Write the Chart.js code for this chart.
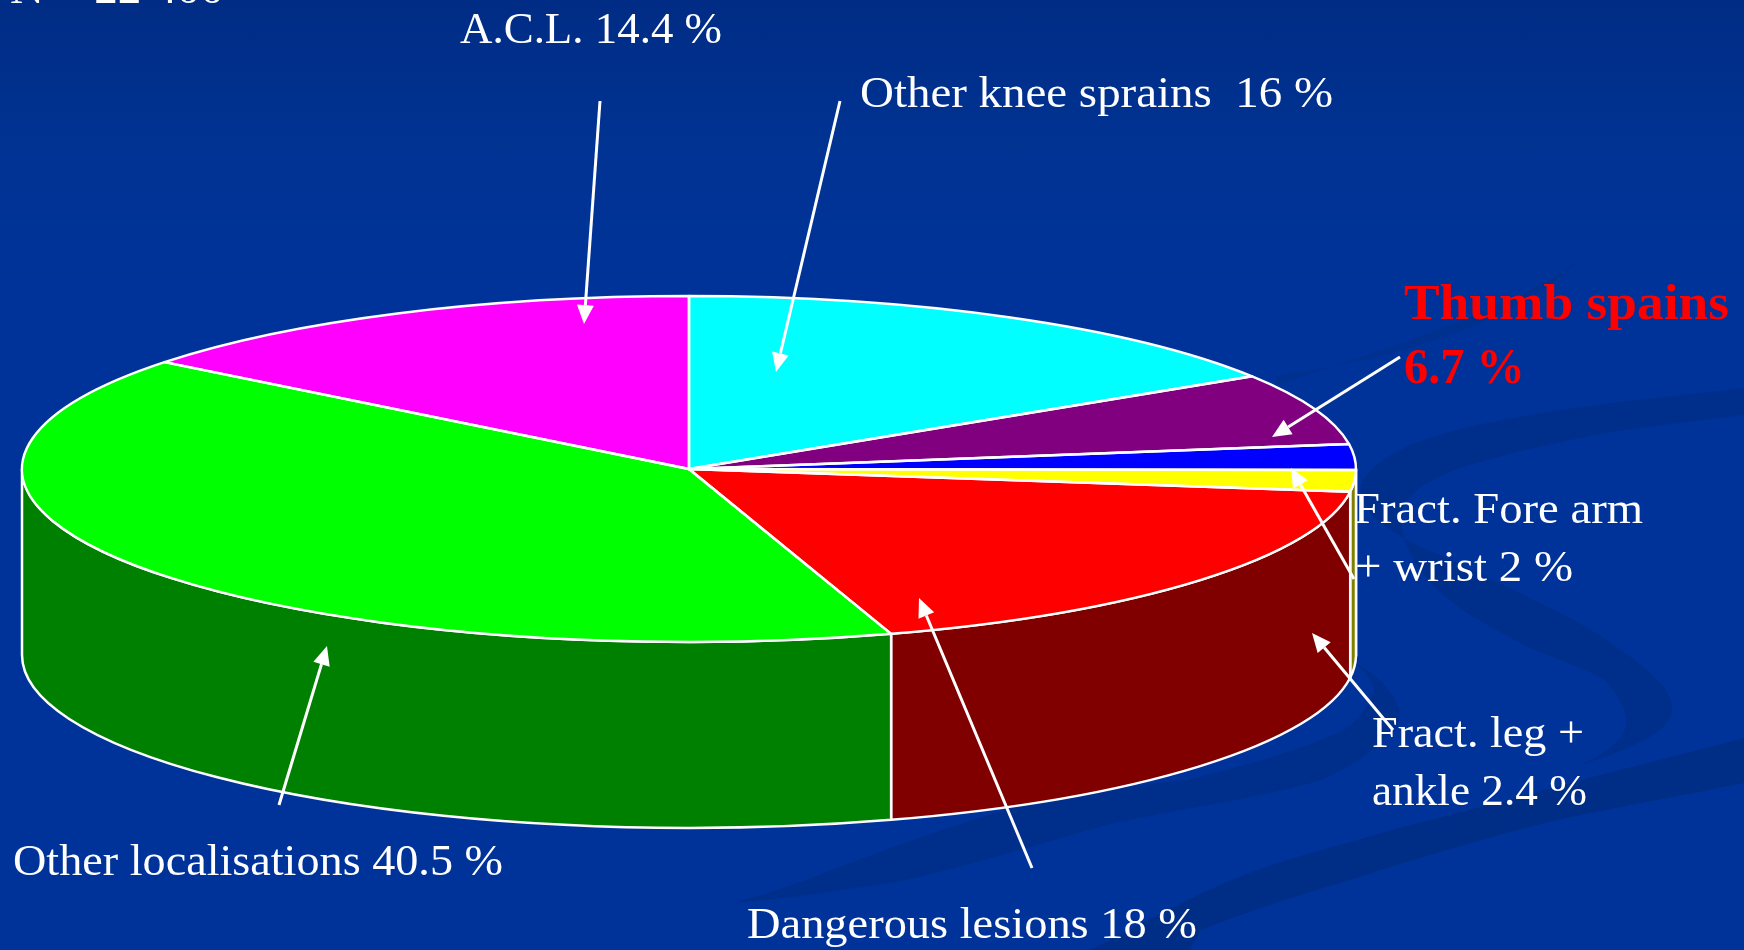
<!DOCTYPE html>
<html>
<head>
<meta charset="utf-8">
<style>
html,body{margin:0;padding:0;width:1744px;height:950px;overflow:hidden;background:#003399}
#bg{position:absolute;left:0;top:0}
#wrap{position:absolute;left:0;top:0;width:1744px;height:950px}
canvas{display:block}
</style>
<script src="https://cdn.jsdelivr.net/npm/chart.js@4/dist/chart.umd.min.js"></script>
</head>
<body>
<svg id="bg" width="1744" height="950" viewBox="0 0 1744 950">
  <defs>
    <linearGradient id="top" x1="0" y1="0" x2="0" y2="1">
      <stop offset="0" stop-color="#002c85"/>
      <stop offset="0.16" stop-color="#003393"/>
      <stop offset="0.3" stop-color="#003399"/>
      <stop offset="1" stop-color="#003399"/>
    </linearGradient>
  </defs>
  <rect width="1744" height="950" fill="url(#top)"/>
  <path d="M1744 738 C1680 755 1610 772 1544 790 C1480 808 1410 824 1350 842 C1310 853 1275 863 1239 877 C1190 897 1140 925 1090 950 L1190 950 L1201 930 C1250 910 1300 895 1350 880 C1410 860 1480 840 1544 823 C1610 808 1680 796 1744 783 Z" fill="#002d85"/>
  <path d="M1744 388 C1700 393 1655 398 1611 403 C1565 409 1520 416 1477 425 C1445 432 1415 441 1394 453 C1372 466 1360 478 1361 490 C1362 503 1370 515 1381 523 C1398 536 1420 547 1440 555 C1472 570 1505 585 1534 600 C1565 615 1595 630 1621 650 C1650 670 1672 690 1672 707 C1672 722 1660 732 1644 740 C1625 750 1603 758 1581 765 C1590 760 1605 753 1611 747 C1622 738 1628 728 1626 717 C1624 705 1615 692 1604 680 C1585 668 1560 660 1534 650 C1510 638 1490 627 1470 615 C1450 602 1432 586 1420 570 C1408 552 1400 533 1401 515 C1403 503 1411 495 1421 487 C1437 476 1457 469 1477 463 C1520 450 1565 441 1611 432 C1655 426 1700 420 1744 415 Z" fill="#002f8b"/>
  <path d="M1354 663 C1375 672 1392 690 1399 707 C1402 725 1395 730 1387 737 C1372 752 1350 767 1322 780 C1260 798 1185 808 1115 823 C1045 842 975 864 907 880 C850 890 790 898 733 903 C790 888 830 870 866 857 C925 835 985 815 1040 800 C1090 792 1140 785 1185 780 C1245 766 1300 750 1344 730 C1355 722 1368 710 1374 690 C1372 680 1364 670 1354 663 Z" fill="#002f8b"/>
  <path d="M1276 375 C1400 360 1520 320 1582 258 C1520 305 1400 345 1276 385 Z" fill="#00318f"/>
</svg>
<div id="wrap"><canvas id="c" width="1744" height="950"></canvas></div>
<script>
// ---- data ----
const categories = ['Other knee sprains','Thumb spains','Fract. leg + ankle','Fract. Fore arm + wrist','Dangerous lesions','Other localisations','A.C.L.'];
const shareValues = [16, 6.7, 2.4, 2, 18, 40.5, 14.4];
const topColors  = ['#00ffff','#800080','#0000ff','#ffff00','#ff0000','#00ff00','#ff00ff'];
const wallColors = ['#008080','#400040','#000080','#808000','#800000','#008000','#800080'];

// ---- annotation text and layout ----
const noteTexts = ['N = 22 400','A.C.L. 14.4 %','Other knee sprains  16 %','Thumb spains','6.7 %','Fract. Fore arm','+ wrist 2 %','Fract. leg +','ankle 2.4 %','Other localisations 40.5 %','Dangerous lesions 18 %'];
const noteLayout = [
  {x:10,y:3,w:214},{x:460,y:43,w:262},{x:860,y:107,w:473},
  {x:1404,y:319,w:325,bold:true},{x:1404,y:383,w:121,bold:true},
  {x:1354,y:523,w:289},{x:1355,y:581,w:218},
  {x:1372,y:747,w:212},{x:1372,y:805,w:215},
  {x:13,y:875,w:490},{x:747,y:938,w:450}
];
const arrowLayout = [
  [600,101,584,324],[840,101,776,372],[1400,357,1272,437],
  [1354,579,1291,468],[1393,730,1312,633],[1032,868,919,598],[279,805,327,646]
];
const RX = 667, RY = 173, DEPTH = 186;

function arrow(ctx,x0,y0,x1,y1){
  const a = Math.atan2(y1-y0,x1-x0), L = 19, W = 8.5;
  const bx = x1-L*Math.cos(a), by = y1-L*Math.sin(a);
  ctx.strokeStyle='#fff'; ctx.fillStyle='#fff'; ctx.lineWidth=3;
  ctx.beginPath(); ctx.moveTo(x0,y0); ctx.lineTo(bx,by); ctx.stroke();
  ctx.beginPath(); ctx.moveTo(x1,y1);
  ctx.lineTo(bx-W*Math.sin(a),by+W*Math.cos(a));
  ctx.lineTo(bx+W*Math.sin(a),by-W*Math.cos(a));
  ctx.closePath(); ctx.fill();
}

const pie3d = {
  id:'pie3d',
  beforeDatasetsDraw(chart){
    const ctx = chart.ctx, arcs = chart.getDatasetMeta(0).data;
    const cx = arcs[0].x, cy = arcs[0].y, r = arcs[0].outerRadius;
    // side wall, built from the arcs the library computed
    ctx.save();
    ctx.lineWidth = 2.5; ctx.strokeStyle = '#fff'; ctx.lineJoin='round';
    arcs.forEach((el,i)=>{
      const s = Math.max(el.startAngle,0), e = Math.min(el.endAngle,Math.PI);
      if (e <= s) return;
      ctx.beginPath();
      ctx.ellipse(cx,cy,RX,RY,0,s,e);
      ctx.ellipse(cx,cy+DEPTH,RX,RY,0,e,s,true);
      ctx.closePath();
      ctx.fillStyle = wallColors[i];
      ctx.fill(); ctx.stroke();
    });
    ctx.restore();
    // flatten the library's circular pie into the tilted top ellipse
    ctx.save();
    ctx.translate(cx,cy); ctx.scale(RX/r,RY/r); ctx.translate(-cx,-cy);
  },
  afterDatasetsDraw(chart){
    const ctx = chart.ctx, arcs = chart.getDatasetMeta(0).data;
    ctx.restore();
    const cx = arcs[0].x, cy = arcs[0].y;
    ctx.save();
    ctx.lineWidth = 2.5; ctx.strokeStyle = '#fff'; ctx.lineJoin='round';
    arcs.forEach(el=>{
      ctx.beginPath(); ctx.moveTo(cx,cy);
      ctx.ellipse(cx,cy,RX,RY,0,el.startAngle,el.endAngle);
      ctx.closePath(); ctx.stroke();
    });
    ctx.restore();
  },
  afterDraw(chart){
    const ctx = chart.ctx;
    ctx.save();
    arrowLayout.forEach(a=>arrow(ctx,a[0],a[1],a[2],a[3]));
    ctx.textBaseline='alphabetic'; ctx.textAlign='left';
    noteTexts.forEach((t,i)=>{
      const n = noteLayout[i];
      ctx.font = (n.bold?'bold 50px':'44px')+' "Liberation Serif", serif';
      ctx.fillStyle = n.bold ? '#ff0000' : '#ffffff';
      const w = ctx.measureText(t).width;
      ctx.save(); ctx.translate(n.x,n.y); ctx.scale(n.w/w,1);
      ctx.fillText(t,0,0);
      ctx.restore();
    });
    ctx.restore();
  }
};

new Chart(document.getElementById('c'),{
  type:'pie',
  data:{labels:categories,datasets:[{data:shareValues,backgroundColor:topColors,borderWidth:0,clip:false}]},
  options:{
    responsive:false,animation:false,events:[],
    layout:{padding:{left:0,top:0,right:366,bottom:12}},
    plugins:{legend:{display:false},tooltip:{enabled:false}}
  },
  plugins:[pie3d]
});
</script>
</body>
</html>
